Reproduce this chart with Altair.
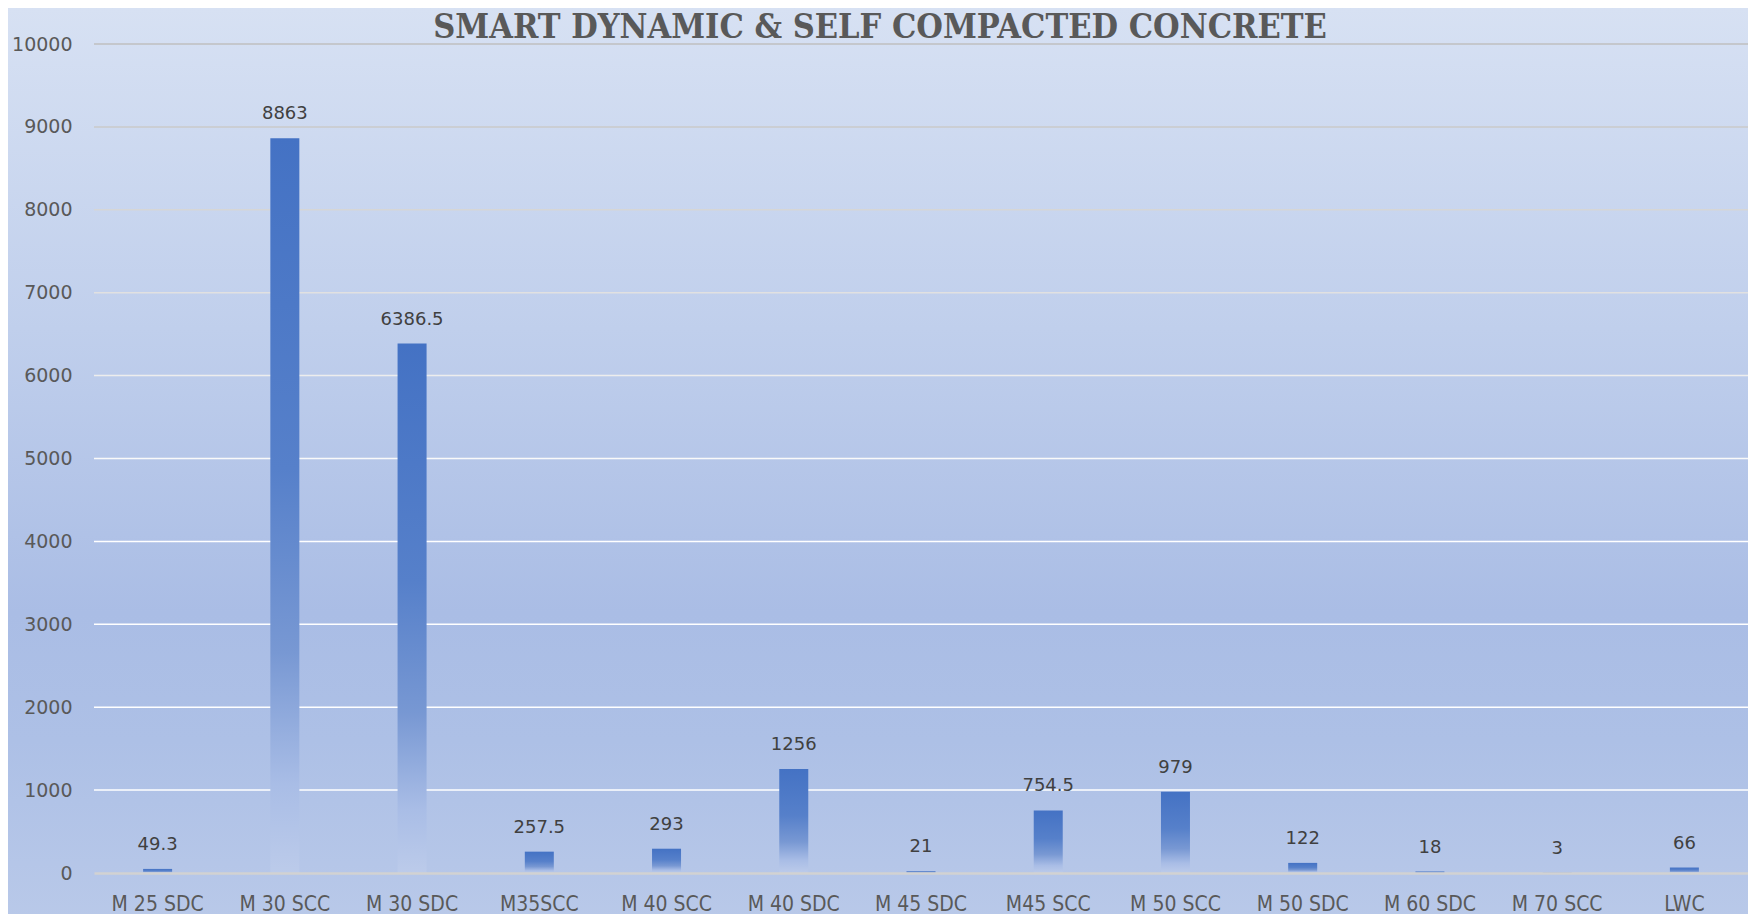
import altair as alt
import pandas as pd

categories = ["M 25 SDC", "M 30 SCC", "M 30 SDC", "M35SCC", "M 40 SCC", "M 40 SDC",
              "M 45 SDC", "M45 SCC", "M 50 SCC", "M 50 SDC", "M 60 SDC", "M 70 SCC", "LWC"]
values = [49.3, 8863, 6386.5, 257.5, 293, 1256, 21, 754.5, 979, 122, 18, 3, 66]
y_ticks = [0, 1000, 2000, 3000, 4000, 5000, 6000, 7000, 8000, 9000, 10000]
title_text = "SMART DYNAMIC & SELF COMPACTED CONCRETE"

W, H = 1654, 829
PAD_L, PAD_T, PAD_R, PAD_B = 86, 36, 0, 41

df = pd.DataFrame({"cat": categories, "v": values,
                   "lbl": [f"{v:g}" for v in values]})
grid_df = pd.DataFrame({"g": [t for t in y_ticks if t > 0]})

xs = alt.Scale(domain=categories, paddingInner=0, paddingOuter=0)
ys = alt.Scale(domain=[0, 10000], nice=False, zero=True)

bg = alt.Chart(pd.DataFrame({"d": [0]})).mark_rect(
    color=alt.Gradient(
        gradient="linear", x1=0, x2=0, y1=0, y2=1,
        stops=[alt.GradientStop(color="#d7e1f3", offset=0),
               alt.GradientStop(color="#c0cfec", offset=0.35),
               alt.GradientStop(color="#aabde5", offset=0.66),
               alt.GradientStop(color="#adc0e6", offset=0.8),
               alt.GradientStop(color="#b9c9e9", offset=1)]
    )
).encode(x=alt.value(-PAD_L), x2=alt.value(W + PAD_R + 10),
         y=alt.value(-PAD_T), y2=alt.value(H + PAD_B + 10))

grid = alt.Chart(grid_df).mark_rule(strokeWidth=1.5).encode(
    y=alt.Y("g:Q", scale=ys),
    color=alt.Color("g:Q", scale=alt.Scale(domain=[4500, 10000], range=["#ffffff", "#bfbfbf"], clamp=True), legend=None)
)

bars = alt.Chart(df).mark_bar(
    width=alt.RelativeBandSize(0.228),
    color=alt.Gradient(
        gradient="linear", x1=0, x2=0, y1=0, y2=1,
        stops=[alt.GradientStop(color="#4472c4", offset=0),
               alt.GradientStop(color="#5680ca", offset=0.45),
               alt.GradientStop(color="#7898d3", offset=0.7),
               alt.GradientStop(color="#a9bde6", offset=0.88),
               alt.GradientStop(color="#bccbea", offset=1)]
    )
).encode(
    x=alt.X("cat:N", scale=xs, sort=categories,
            axis=alt.Axis(title=None, labelFont="DejaVu Sans Condensed, Liberation Sans Narrow, sans-serif",
                          labelFontSize=21,
                          labelColor="#595959", ticks=False, labelPadding=20,
                          domainColor="#d2d2d2", domainWidth=2.5, labelAngle=0, zindex=1)),
    y=alt.Y("v:Q", scale=ys,
            axis=alt.Axis(title=None, values=y_ticks, grid=False, domain=False, ticks=False,
                          format="d",
                          labelFont="DejaVu Sans", labelFontSize=19, labelColor="#595959",
                          labelPadding=22, zindex=1))
)

labels = alt.Chart(df).mark_text(
    font="DejaVu Sans", fontSize=18, color="#404040", baseline="alphabetic", dy=-19
).encode(x=alt.X("cat:N", scale=xs, sort=categories), y=alt.Y("v:Q", scale=ys), text="lbl:N")

title = alt.Chart(pd.DataFrame({"t": [title_text]})).mark_text(
    font="DejaVu Serif Condensed", fontWeight="bold", fontSize=34, color="#595959",
    baseline="middle", align="center"
).encode(x=alt.value(786), y=alt.value(-16), text="t:N")

chart = alt.layer(bg, grid, bars, labels, title).properties(
    width=W, height=H,
    autosize=alt.AutoSizeParams(type="none"),
    padding={"left": PAD_L, "top": PAD_T, "right": PAD_R, "bottom": PAD_B},
    background="#c3d1ec"
).configure_view(stroke=None)

chart.save("out.html", embed_options={"renderer": "svg", "actions": False})
